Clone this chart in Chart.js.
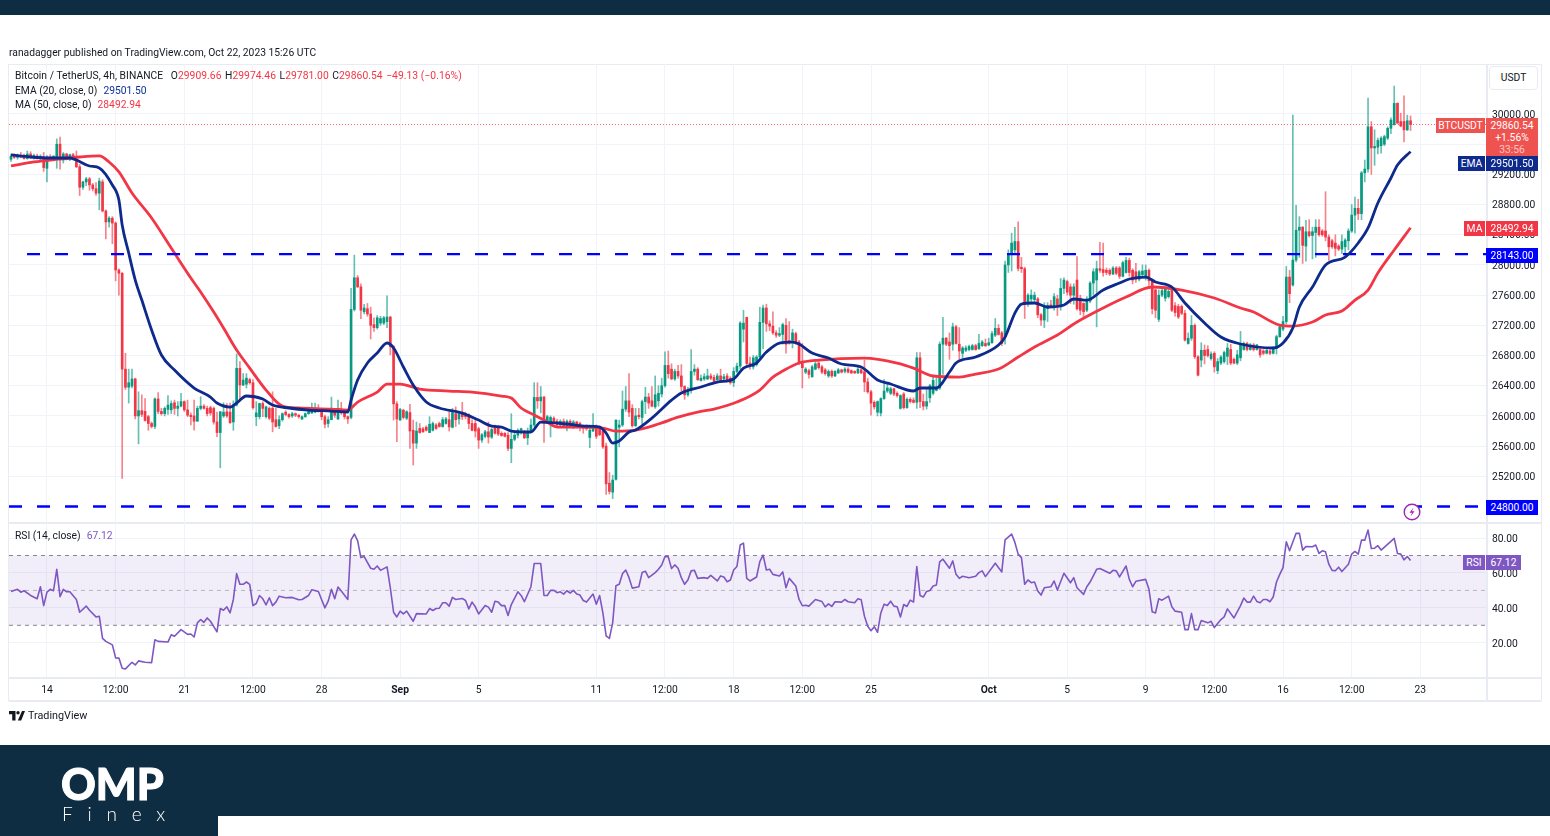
<!DOCTYPE html>
<html>
<head>
<meta charset="utf-8">
<title>BTCUSDT 4h</title>
<script src="https://cdn.jsdelivr.net/npm/chart.js@4"></script>
<style>
    html, body { margin: 0; padding: 0; background: #fff; width: 1550px; height: 836px; overflow: hidden; }
    body, .t { font-family: Roboto, sans-serif; font-size: 10.3px; color: #131722; }
    #wrap { position: relative; width: 1550px; height: 836px; }
    canvas { position: absolute; left: 0; top: 0; z-index: 2; }
    .abs { position: absolute; }
    .t { position: absolute; white-space: nowrap; line-height: 14px; z-index: 3; }
    .t span { margin-left: 6px; }
    .t span.k { margin-left: 3.5px; }
    .t span.r.v { margin-left: 0; }
    .r { color: #F23645; }
    .bar { position: absolute; background: #0F2D42; z-index: 1; }
    .line { position: absolute; background: #e9ebf2; z-index: 1; }
    .tag { position: absolute; z-index: 4; color: #fff; text-align: center; white-space: nowrap; line-height: 15px; height: 15px; }
</style>
</head>
<body>
<div id="wrap">
    <div class="bar" style="left:0;top:0;width:1550px;height:15px"></div>
    <div class="bar" style="left:0;top:745px;width:1550px;height:91px"></div>
    <div class="abs" style="left:218px;top:816px;width:1332px;height:20px;background:#fff;z-index:1"></div>

    <div class="t" style="left:9px;top:46px">ranadagger published on TradingView.com, Oct 22, 2023 15:26 UTC</div>

    <!-- marco de los paneles -->
    <div class="line" style="left:9px;top:64px;width:1532px;height:1px"></div>
    <div class="line" style="left:9px;top:700px;width:1532px;height:2px"></div>
    <div class="line" style="left:8px;top:64px;width:1px;height:637px"></div>
    <div class="line" style="left:1541px;top:64px;width:1px;height:637px"></div>
    <div class="line" style="left:1486px;top:64px;width:2px;height:637px"></div>
    <div class="line" style="left:9px;top:522px;width:1532px;height:2px"></div>
    <div class="line" style="left:9px;top:677px;width:1532px;height:2px"></div>

    <canvas id="grafico" width="1550" height="836"></canvas>

    <div class="t" style="left:15px;top:69px;letter-spacing:.05px">Bitcoin / TetherUS, 4h, BINANCE<span style="margin-left:7.5px">O</span><span class="r v">29909.66</span><span class="k">H</span><span class="r v">29974.46</span><span class="k">L</span><span class="r v">29781.00</span><span class="k">C</span><span class="r v">29860.54</span><span class="r k">&minus;49.13 (&minus;0.16%)</span></div>
    <div class="t" style="left:15px;top:84px">EMA (20, close, 0)<span style="color:#0C3299">29501.50</span></div>
    <div class="t" style="left:15px;top:98px">MA (50, close, 0)<span class="r">28492.94</span></div>
    <div class="t" style="left:15px;top:529px">RSI (14, close)<span style="color:#7E57C2">67.12</span></div>

    <!-- etiquetas del eje derecho -->
    <div class="t" style="left:1489px;top:66px;width:47px;height:22px;line-height:22px;text-align:center;border:1px solid #e9ebf2;border-radius:4px;background:#fff">USDT</div>
    <div class="tag" style="left:1436px;top:118px;width:49px;background:#EF5350">BTCUSDT</div>
    <div class="tag" style="left:1486px;top:118px;width:52px;height:38px;background:#EF5350;line-height:12px;padding-top:2px">29860.54<br>+1.56%<br><span style="opacity:.65">33:56</span></div>
    <div class="tag" style="left:1458px;top:156px;width:27px;background:#0D2A8C">EMA</div>
    <div class="tag" style="left:1486px;top:156px;width:52px;background:#0D2A8C">29501.50</div>
    <div class="tag" style="left:1464px;top:221px;width:21px;background:#F23645">MA</div>
    <div class="tag" style="left:1486px;top:221px;width:52px;background:#F23645">28492.94</div>
    <div class="tag" style="left:1486px;top:248px;width:52px;background:#0000FF">28143.00</div>
    <div class="tag" style="left:1486px;top:500px;width:52px;background:#0000FF">24800.00</div>
    <div class="tag" style="left:1463px;top:555px;width:22px;background:#7E57C2">RSI</div>
    <div class="tag" style="left:1486px;top:555px;width:35px;background:#7E57C2">67.12</div>

    <svg class="abs" style="left:1403px;top:503px;z-index:3" width="18" height="18" viewBox="0 0 18 18">
        <circle cx="9" cy="9" r="7.8" fill="#fff" stroke="#9C27B0" stroke-width="1.4"/>
        <path d="M10.5 4.5 L6.5 9.8 L9 9.8 L7.5 13.5 L11.5 8.2 L9 8.2 Z" fill="#9C27B0"/>
    </svg>

    <!-- marcas -->
    <svg class="abs" style="left:9px;top:711px;z-index:3" width="16" height="10" viewBox="0 0 16 10">
        <path d="M0 0 H6.5 V9.5 H3.2 V3.2 H0 Z M13 0 H16 L12.2 9.5 H8.8 Z" fill="#131722"/>
        <circle cx="9" cy="1.7" r="1.7" fill="#131722"/>
    </svg>
    <div class="t" style="left:28px;top:709px;font-size:10.8px">TradingView</div>
    <div class="t" style="left:61px;top:761px;font-family:Lato,sans-serif;font-weight:900;font-size:43px;line-height:46px;color:#fff;-webkit-text-stroke:1px #fff">OMP</div>
    <div class="t" style="left:62px;top:802px;font-family:Lato,sans-serif;font-weight:300;font-size:19px;line-height:24px;letter-spacing:14.8px;color:#fff">Finex</div>
</div>

<script>
// velas de 4h (indice 0 = primera vela a la izquierda)
const opens = [
    29400,29440,29425,29450,29430,29410,29470,29430,29445,29420,
    29430,29280,29430,29400,29400,29600,29390,29470,29400,29460,
    29400,29300,29030,29100,29140,29060,29010,28950,29100,28715,
    28570,28620,28555,27933,27890,26620,26380,26395,26490,26000,
    26070,26060,25990,25900,25860,26225,26060,26030,26086,26080,
    26175,26100,26130,26190,26080,26010,26000,25930,26100,26130,
    26100,26110,26100,25920,25780,26000,26055,26050,25920,26145,
    26630,26410,26420,26480,26440,25990,25990,26165,25990,26100,
    26100,25950,25870,25950,26050,26020,26000,26030,26010,25960,
    25990,26030,26040,26050,26090,26060,25990,25900,25950,26060,
    25960,26080,26040,25990,25980,27410,27830,27710,27380,27420,
    27350,27210,27170,27230,27230,27250,27310,26917,26160,25945,
    26075,25970,26045,25810,25640,25835,25830,25850,25780,25810,
    25880,25900,25860,25900,25950,25850,26030,25960,26030,26030,
    26020,25900,25900,25830,25680,25730,25790,25720,25840,25850,
    25770,25770,25745,25570,25690,25745,25810,25780,25710,25790,
    25880,26245,26200,26250,25920,25920,25970,25930,25880,25930,
    25870,25930,25860,25920,25900,25870,25860,25715,25800,25860,
    25850,25800,25600,25110,24990,25160,25850,25880,26090,26200,
    26100,25870,26000,25980,26190,26250,26200,26120,26200,26290,
    26400,26670,26620,26490,26590,26530,26390,26280,26340,26590,
    26620,26470,26490,26490,26530,26510,26480,26530,26490,26530,
    26500,26440,26590,26660,27150,27305,26700,26650,26680,26780,
    27240,27430,27220,27190,27100,27070,27080,27200,27000,27000,
    27090,26980,26695,26580,26600,26520,26620,26700,26650,26610,
    26530,26590,26530,26570,26610,26590,26620,26600,26590,26570,
    26610,26585,26450,26320,26180,26050,26040,26230,26330,26300,
    26360,26300,26100,26290,26110,26220,26210,26180,26770,26190,
    26130,26240,26300,26340,26370,26950,27030,26980,26950,27180,
    26950,26830,26870,26880,26880,26930,26890,26930,26960,26940,
    26970,27070,27160,27100,27050,28000,28150,28200,28310,27954,
    27950,27490,27550,27540,27550,27340,27270,27420,27470,27450,
    27550,27450,27690,27780,27710,27600,27800,27560,27490,27400,
    27520,27760,27800,27950,27940,27930,27930,27880,27960,27960,
    27850,27900,28060,27930,27910,27810,27870,27840,27930,27790,
    27670,27280,27600,27560,27580,27690,27460,27450,27450,27360,
    26960,27030,27200,26784,26740,26870,26880,26760,26830,26600,
    26700,26720,26790,26880,26750,26700,26770,26880,26960,26880,
    26940,26880,26880,26860,26830,26860,26830,26890,27050,27150,
    27250,27840,27734,28065,28460,28500,28250,28440,28390,28430,
    28500,28450,28450,28370,28320,28290,28250,28210,28240,28320,
    28450,28660,28750,28680,29220,29270,29830,29550,29560,29580,
    29600,29680,29810,29860,30140,29900,29900,29790,29909.66
];
const highs = [
    29470,29470,29470,29490,29470,29510,29500,29470,29470,29460,
    29490,29450,29460,29450,29670,29695,29490,29480,29470,29480,
    29510,29330,29110,29160,29160,29080,29090,29150,29130,28730,
    28640,28640,28570,27950,27900,26830,26620,26620,26500,26320,
    26280,26230,26010,25920,26240,26310,26100,26120,26270,26200,
    26210,26190,26300,26200,26210,26040,26210,26130,26255,26150,
    26130,26130,26120,26050,26060,26175,26165,26170,26200,26820,
    26720,26560,26560,26500,26480,26190,26170,26190,26130,26120,
    26320,26100,26000,26040,26070,26030,26050,26040,26020,26000,
    26040,26080,26170,26170,26150,26080,26010,25990,26250,26090,
    26210,26180,26060,26000,27690,28130,27860,27750,27480,27490,
    27440,27300,27330,27320,27320,27590,27320,26930,26190,26100,
    26090,26070,26155,25945,25920,25900,25850,25870,25990,25920,
    25900,25920,25980,25980,26055,26100,26120,26050,26180,26050,
    26030,25950,25970,25850,25770,25810,25920,25840,25880,25870,
    25790,25780,25780,26030,25800,25830,25840,25810,25840,25960,
    26440,26440,26390,26260,26010,26000,25990,25960,25950,25960,
    25950,25950,25940,25930,25920,25880,25880,25860,26030,25880,
    25870,25810,25640,25250,25215,25950,25945,26330,26390,26560,
    26150,26100,26100,26210,26380,26300,26390,26530,26400,26500,
    26850,26860,26690,26620,26670,26680,26400,26380,26880,26680,
    26640,26540,26560,26620,26560,26540,26560,26620,26550,26560,
    26520,26640,26700,27250,27400,27310,26780,26800,26800,27440,
    27470,27480,27260,27380,27130,27170,27230,27290,27250,27150,
    27110,27000,26960,26640,26620,26670,26720,26750,26670,26630,
    26610,26610,26600,26630,26620,26640,26640,26610,26600,26640,
    26630,26740,26500,26340,26200,26200,26240,26480,26440,26380,
    26370,26320,26280,26310,26240,26240,26240,26840,26840,26290,
    26350,26420,26540,26500,26980,27305,27040,27100,27230,27200,
    27170,26920,26930,26940,26950,26950,27080,27000,27020,27030,
    27120,27290,27210,27120,28050,28200,28420,28500,28570,28100,
    27970,27620,27670,27640,27570,27360,27500,27500,27530,27620,
    27600,27820,27830,27800,27750,27750,28110,27600,27500,27580,
    27780,27950,28050,28300,28290,27960,27950,27980,27980,27980,
    28050,28100,28090,27950,28020,27930,28000,28000,27950,27800,
    27680,27670,27710,27700,27680,27700,27500,27480,27470,27400,
    27100,27330,27220,26800,26970,26940,26930,26850,26850,26760,
    26800,26860,26960,26950,26770,26870,27120,26980,26980,26960,
    26960,26950,26900,26880,26890,26880,26920,27070,27200,27320,
    27980,27930,29986,28790,28640,28510,28590,28600,28500,28600,
    28600,28470,28970,28400,28340,28400,28270,28400,28350,28480,
    28800,28900,28870,29240,29390,30210,29900,29790,29680,29700,
    29720,29830,29950,30370,30150,30010,30240,29985,29974.46
];
const lows = [
    29370,29410,29400,29420,29400,29400,29410,29400,29400,29370,
    29240,29100,29380,29380,29280,29270,29350,29390,29380,29390,
    29290,28920,29000,29050,28990,28980,28920,28730,28700,28345,
    28500,28280,27790,27600,25172,26350,26170,26370,25960,25630,
    25990,25930,25810,25840,25830,26030,26010,26000,26020,26030,
    26020,26000,26120,26060,25990,25880,25810,25930,26080,26090,
    26000,26010,25890,25725,25313,25980,25980,25900,25810,26130,
    26210,26400,26370,26420,26090,25870,25960,25990,25970,25950,
    25790,25850,25830,25930,26000,25970,25980,25990,25970,25950,
    25980,26020,26030,26040,26050,25950,25840,25850,25950,25980,
    25950,26020,25960,25900,25960,27390,27700,27290,27350,27320,
    27020,27120,27150,27200,27210,27170,26810,25945,25660,25945,
    25960,25950,25570,25350,25570,25770,25780,25800,25780,25800,
    25820,25850,25850,25890,25800,25840,25860,25890,25950,25960,
    25830,25800,25720,25570,25650,25710,25640,25700,25760,25740,
    25730,25720,25540,25380,25670,25710,25760,25700,25620,25780,
    25860,26100,26040,25650,25900,25720,25900,25860,25860,25850,
    25800,25840,25830,25840,25800,25770,25810,25580,25790,25700,
    25740,25570,24960,24965,24905,25150,25590,25860,26060,25990,
    25850,25860,25960,25870,26030,26100,26120,26100,26130,26250,
    26380,26500,26480,26470,26500,26330,26220,26260,26300,26540,
    26470,26460,26470,26480,26480,26440,26460,26460,26470,26450,
    26420,26390,26570,26620,26980,26670,26620,26620,26660,26760,
    26890,27120,27130,27080,27040,27050,26950,26830,26950,26900,
    26950,26680,26370,26560,26500,26510,26610,26620,26560,26540,
    26510,26510,26520,26560,26570,26570,26570,26560,26560,26560,
    26560,26320,26300,26010,26090,26000,26000,26220,26310,26280,
    26270,26250,26090,26090,26100,26170,26170,26100,26110,26080,
    26090,26180,26280,26330,26350,26550,26930,26750,26870,26950,
    26740,26760,26850,26860,26870,26870,26880,26920,26920,26930,
    26960,27050,27070,26930,26950,27900,27920,28150,27920,27900,
    27290,27450,27500,27500,27300,27200,27170,27250,27430,27400,
    27330,27400,27620,27600,27490,27480,27400,27340,27300,27380,
    27500,27600,27180,27900,27850,27870,27860,27870,27870,27820,
    27840,27890,27850,27750,27770,27790,27860,27800,27730,27350,
    27300,27250,27580,27520,27560,27380,27320,27290,27340,26990,
    26950,27000,26760,26530,26650,26690,26780,26740,26580,26560,
    26680,26700,26680,26680,26690,26680,26730,26870,26860,26870,
    26860,26870,26780,26810,26820,26810,26820,26820,27040,27130,
    27220,27500,27720,28040,28100,28020,28050,28370,28080,28100,
    28380,28380,28320,28060,28220,28120,28190,28150,28100,28200,
    28430,28420,28600,28600,29100,29230,29200,29320,29470,29480,
    29580,29660,29740,29850,29870,29830,29630,29780,29781
];
const closes = [
    29440,29425,29450,29430,29410,29470,29430,29445,29420,29440,
    29290,29430,29400,29440,29600,29390,29470,29400,29460,29400,
    29300,29030,29100,29140,29060,29010,28950,29110,28715,28570,
    28620,28555,27933,27890,26620,26380,26440,26490,26000,26070,
    26020,25940,25900,25860,26225,26060,26030,26100,26144,26165,
    26100,26130,26190,26080,26010,25990,25930,26100,26130,26100,
    26030,26040,25920,25780,26055,26050,26000,25910,26145,26630,
    26410,26475,26500,26440,26110,26040,26165,26100,26120,25970,
    25920,25860,25950,26030,26020,25990,26030,26010,25990,25990,
    26030,26060,26080,26090,26060,25990,25890,25950,26090,26010,
    26100,26040,25990,25960,27411,27830,27710,27400,27430,27350,
    27200,27170,27300,27290,27300,27310,26917,26160,25960,26085,
    25980,26055,25800,25640,25800,25780,25790,25810,25890,25900,
    25835,25860,25950,25960,25855,26045,25950,26030,25990,25990,
    25900,25810,25800,25680,25750,25790,25720,25820,25770,25760,
    25740,25730,25570,25690,25745,25810,25820,25710,25790,25880,
    26245,26200,26250,25950,25990,25980,25930,25880,25930,25870,
    25930,25860,25920,25860,25860,25840,25830,25812,25860,25730,
    25750,25590,25100,25000,25150,25945,25880,26090,26200,26050,
    25870,26000,25990,26190,26250,26170,26130,26280,26300,26400,
    26670,26560,26490,26590,26530,26390,26280,26340,26590,26620,
    26480,26500,26520,26530,26500,26460,26530,26470,26520,26470,
    26440,26590,26660,27230,27230,26695,26660,26770,26780,27240,
    27430,27220,27190,27100,27070,27090,27210,26950,26970,27100,
    26970,26695,26640,26620,26550,26650,26690,26640,26580,26560,
    26590,26530,26590,26610,26580,26620,26580,26570,26570,26620,
    26570,26450,26320,26170,26120,26190,26230,26330,26370,26360,
    26290,26270,26270,26110,26220,26190,26180,26770,26190,26130,
    26190,26400,26470,26370,26950,27030,26950,26930,27180,26960,
    26860,26900,26900,26920,26930,26880,26960,26980,26930,26970,
    27090,27160,27080,26960,28000,28150,28290,28310,27954,27950,
    27490,27600,27600,27600,27340,27270,27450,27460,27450,27580,
    27450,27690,27800,27640,27600,27710,27420,27400,27380,27540,
    27760,27910,27950,27930,27900,27900,27880,27960,27890,27850,
    28030,28060,27900,27800,27810,27910,27920,27930,27790,27420,
    27400,27600,27660,27690,27650,27400,27370,27310,27360,27005,
    27030,27200,26784,26540,26870,26800,26800,26820,26650,26720,
    26780,26840,26900,26700,26700,26810,26960,26960,26880,26940,
    26880,26940,26810,26830,26870,26830,26900,27050,27180,27250,
    27840,27620,28065,28460,28500,28260,28440,28390,28440,28500,
    28400,28400,28370,28240,28240,28220,28210,28310,28330,28450,
    28660,28750,28680,29220,29270,29830,29550,29570,29650,29680,
    29700,29810,29920,30140,29880,29840,29790,29910,29860.54
];

// medias moviles (indice de vela y valor)
const emaIdx = [0,6,12,18,20,24,27,31,33,34,36,38,40,43,46,50,56,61,63,67,69,72,77,80,85,91,98,103,104,106,109,112,115,117,120,123,127,131,138,143,147,150,153,159,162,170,175,180,182,184,186,189,191,196,202,205,211,216,221,224,228,231,235,239,241,245,250,254,260,265,269,276,278,283,287,289,295,302,304,307,309,313,317,322,325,329,334,339,342,347,350,355,359,365,370,376,386,389,392,394,398,402,408,412,415,418,422,424,428];
const emaVal = [29457,29430,29417,29417,29390,29311,29285,29059,28860,28529,28158,27800,27535,27138,26807,26608,26370,26250,26171,26118,26171,26264,26224,26144,26105,26078,26065,26052,26210,26476,26701,26833,26966,26900,26648,26409,26184,26105,26038,25945,25866,25853,25800,25787,25919,25893,25866,25853,25773,25641,25668,25787,25813,25972,26210,26303,26383,26449,26489,26634,26701,26846,26966,26979,26953,26833,26767,26688,26648,26476,26423,26330,26370,26370,26582,26701,26780,26939,27045,27363,27482,27496,27443,27469,27549,27535,27668,27761,27814,27840,27774,27708,27496,27231,27045,26953,26900,26966,27165,27443,27708,28000,28105,28291,28490,28821,29152,29324,29501.5];
const maIdx = [0,7,15,21,27,30,33,37,43,49,55,58,62,65,69,73,78,83,88,98,103,106,112,115,119,125,134,141,150,153,156,160,163,167,174,181,185,191,198,204,210,215,222,229,233,236,241,247,261,271,276,282,290,295,302,308,313,320,326,334,341,349,358,368,376,380,388,392,398,402,407,411,415,418,423,428];
const maVal = [29311,29364,29404,29430,29444,29364,29232,28953,28622,28225,27827,27642,27376,27165,26873,26634,26343,26131,26105,26091,26078,26184,26316,26422,26422,26356,26330,26316,26264,26237,26105,26012,25945,25853,25853,25840,25800,25813,25893,25985,26052,26091,26184,26343,26515,26595,26701,26740,26767,26701,26634,26529,26515,26555,26621,26780,26913,27072,27244,27430,27575,27708,27668,27562,27430,27376,27204,27191,27244,27337,27390,27535,27668,27893,28198,28492.94];

// RSI (indice de vela y valor)
const rsiIdx = [0,2,3,4,6,8,9,10,11,12,13,14,15,16,17,18,20,21,23,24,26,27,28,29,31,32,33,34,35,37,38,39,41,43,44,45,48,49,50,52,54,55,56,57,58,59,60,61,63,64,65,66,67,68,69,70,71,72,73,74,75,76,77,78,79,80,81,82,84,86,88,89,91,92,94,96,97,98,99,100,101,103,104,105,106,107,108,110,111,112,113,115,116,117,118,119,120,121,123,124,127,128,129,130,131,132,133,134,135,136,138,139,140,141,142,143,145,146,147,148,149,150,151,152,153,155,
    156,157,159,160,162,163,164,165,166,167,168,169,170,171,172,173,174,175,176,178,179,180,181,182,183,184,185,186,187,188,189,190,192,193,194,195,197,198,199,200,201,202,203,204,205,206,207,208,209,210,212,213,214,216,217,218,219,220,221,222,223,224,225,226,228,229,230,231,232,233,235,236,237,238,240,241,242,243,244,246,248,249,250,251,252,254,255,256,258,259,260,261,262,263,264,265,266,267,268,269,270,271,272,273,274,275,276,277,278,279,280,281,282,283,284,285,287,288,289,290,291,293,295,296,297,298,301,303,304,306,307,308,309,310,311,312,313,
    314,315,316,318,319,320,322,324,325,326,328,329,330,332,333,336,337,338,339,341,342,343,344,347,348,349,350,351,352,354,355,356,358,359,360,361,362,363,364,366,367,368,370,371,372,374,376,377,378,379,380,381,382,383,384,385,386,387,388,389,390,391,393,394,395,396,398,399,400,401,402,403,404,405,406,407,409,410,411,412,413,414,415,416,417,418,419,423,424,425,426,427,428];
const rsiVal = [49.4,50.6,49.0,49.8,47.1,45.2,52.1,41.3,49.0,50.6,49.8,62.1,46.4,50.6,49.2,49.2,44.8,37.5,41.0,38.6,34.8,35.2,22.5,20.8,18.8,11.3,11.2,5.4,5.0,8.8,7.3,9.6,8.8,8.6,21.7,20.8,20.4,24.6,23.7,27.5,24.8,25.0,23.3,31.4,33.3,31.7,34.2,32.3,26.2,39.6,38.6,40.6,37.1,44.8,59.6,53.5,53.5,54.8,53.5,41.3,42.5,47.1,45.2,41.7,45.8,41.3,43.3,46.7,45.8,46.0,44.6,44.8,47.1,50.4,49.4,40.0,43.8,50.6,45.2,51.9,49.6,44.8,79.0,82.3,78.5,68.8,69.4,62.7,62.1,64.0,61.5,63.5,51.5,37.5,34.8,38.1,36.5,38.1,32.3,36.7,36.5,39.6,38.5,39.6,39.8,42.9,42.9,41.0,46.0,44.8,45.4,44.2,39.4,43.3,40.6,36.5,41.3,40.4,37.5,43.8,43.3,41.3,41.3,35.6,41.9,49.2,
    47.1,43.5,52.1,65.4,65.4,47.1,47.1,50.0,50.0,48.7,49.2,47.9,49.8,48.5,50.0,47.9,47.3,44.2,43.3,47.9,42.1,47.1,37.1,24.0,22.5,31.4,52.7,53.5,59.6,61.7,57.3,51.3,52.1,60.2,61.0,57.3,60.2,62.1,64.6,69.4,69.2,62.5,64.6,62.7,57.3,53.5,56.0,61.2,61.5,56.9,57.3,56.9,58.6,55.4,58.3,57.7,55.0,56.0,61.7,63.7,76.0,77.1,56.9,55.4,57.7,66.5,70.2,61.7,62.1,59.2,58.3,60.6,51.5,56.9,52.5,44.8,41.2,41.5,41.0,44.8,43.6,40.6,42.3,40.8,43.5,43.3,44.8,43.5,42.9,45.2,44.6,35.2,29.4,26.9,29.2,26.0,37.1,42.1,41.3,43.8,41.0,40.6,34.8,41.9,40.8,44.4,43.3,63.7,47.1,46.2,49.4,50.0,52.5,53.1,66.3,67.9,62.7,66.9,59.2,56.9,58.1,57.3,58.1,60.2,61.2,57.9,65.6,60.6,79.0,82.3,77.5,70.8,68.8,53.5,56.0,54.4,54.8,
    49.6,47.3,51.5,52.1,55.4,50.2,59.8,54.4,57.3,51.5,47.7,52.1,54.8,62.1,62.5,59.8,61.5,61.2,57.7,64.0,56.3,52.1,55.2,56.3,50.6,37.7,37.1,45.2,44.4,46.7,40.6,38.1,37.5,27.5,27.5,36.7,27.5,27.5,32.7,31.4,32.3,28.7,33.3,34.8,39.4,34.2,41.3,45.6,43.3,43.3,46.7,43.7,42.9,44.8,44.8,43.5,46.2,54.8,59.2,63.1,77.9,72.7,82.7,82.7,73.1,75.2,75.0,76.0,71.2,72.7,72.1,65.0,61.5,61.3,63.3,60.8,65.0,70.8,72.3,70.8,78.8,78.8,84.6,74.0,74.2,75.6,73.1,79.8,71.2,70.8,67.5,69.4,67.12];

// niveles y ejes
const soporte = 24800;
const resistencia = 28143;
const ultimoPrecio = 29860.54;
const soporteDesde = -0.61;
const resistenciaDesde = 4.9;
const xMin = -0.61;
const xMax = 451.07;
const priceTicks = [25200,25600,26000,26400,26800,27200,27600,28000,28400,28800,29200,29600,30000];
const rsiTicks = [20,40,60,80];
const rsiNiveles = [70,50,30];
const xTickIdx = [11,32,53,74,95,119,143,179,200,221,242,263,299,323,347,368,389,410,431];
const xTickLabels = ["14","12:00","21","12:00","28","Sep","5","11","12:00","18","12:00","25","Oct","5","9","12:00","16","12:00","23"];

const VERDE = "#089981";
const ROJO = "#F23645";
const VIOLETA = "#7E57C2";

const indices = closes.map((c, i) => i);
const colorVela = (alpha) => closes.map((c, i) => {
    const base = c >= opens[i] ? "8,153,129" : "242,54,69";
    return `rgba(${base},${alpha})`;
});
const puntos = (xs, ys) => xs.map((x, i) => ({ x: x, y: ys[i] }));
const horizontal = (desde, valor) => [{ x: desde, y: valor }, { x: xMax, y: valor }];

function lineaDataset(data, color, ancho, eje, extra) {
    return Object.assign({
        type: "line",
        data: data,
        yAxisID: eje,
        borderColor: color,
        borderWidth: ancho,
        pointRadius: 0,
        tension: 0,
        fill: false,
        borderJoinStyle: "round"
    }, extra);
}

const datasets = [
    // sombras y cuerpos de las velas
    {
        type: "bar",
        data: indices.map(i => ({ x: i, y: [lows[i], highs[i]] })),
        yAxisID: "yPrice",
        backgroundColor: colorVela(0.62),
        barThickness: 1,
        grouped: false,
        order: 4
    },
    {
        type: "bar",
        data: indices.map(i => ({ x: i, y: [opens[i], closes[i]] })),
        yAxisID: "yPrice",
        backgroundColor: colorVela(1),
        barThickness: 2,
        minBarLength: 1.5,
        grouped: false,
        order: 3
    },
    lineaDataset(horizontal(xMin, ultimoPrecio), "rgba(242,54,69,0.75)", 1, "yPrice", { borderDash: [1, 2], order: 2 }),
    lineaDataset(puntos(maIdx, maVal), ROJO, 2.8, "yPrice", { order: 1, cubicInterpolationMode: "monotone" }),
    lineaDataset(puntos(emaIdx, emaVal), "#0D2A8C", 2.8, "yPrice", { order: 0, cubicInterpolationMode: "monotone" }),
    lineaDataset(horizontal(resistenciaDesde, resistencia), "#0000FF", 2.4, "yPrice", { borderDash: [13, 15], order: 0 }),
    lineaDataset(horizontal(soporteDesde, soporte), "#0000FF", 2.4, "yPrice", { borderDash: [13, 15], order: 0 }),
    // banda del RSI
    lineaDataset(horizontal(xMin, rsiNiveles[0]), "rgba(120,123,134,0.9)", 1, "yRsi", {
        borderDash: [4, 4],
        fill: { target: { value: rsiNiveles[2] } },
        backgroundColor: "rgba(126,87,194,0.1)",
        order: 6
    }),
    lineaDataset(horizontal(xMin, rsiNiveles[1]), "rgba(120,123,134,0.5)", 1, "yRsi", { borderDash: [4, 4], order: 5 }),
    lineaDataset(horizontal(xMin, rsiNiveles[2]), "rgba(120,123,134,0.9)", 1, "yRsi", { borderDash: [4, 4], order: 5 }),
    lineaDataset(puntos(rsiIdx, rsiVal), VIOLETA, 1.6, "yRsi", { order: 0 })
];

const fuenteEje = { family: "Roboto, sans-serif", size: 10.3 };
const ejeY = (ticks, min, max, peso, decimales, desplazamiento) => ({
    type: "linear",
    position: "right",
    stack: "paneles",
    stackWeight: peso,
    min: min,
    max: max,
    afterBuildTicks: (eje) => { eje.ticks = ticks.map(v => ({ value: v })); },
    afterFit: (eje) => { eje.width = 55; },
    grid: { color: "#f0f3fa", drawTicks: false },
    border: { display: false },
    ticks: { padding: 6, labelOffset: desplazamiento, color: "#131722", font: fuenteEje, callback: v => v.toFixed(decimales) }
});

new Chart(document.getElementById("grafico"), {
    type: "bar",
    data: { datasets: datasets },
    options: {
        responsive: false,
        animation: false,
        events: [],
        devicePixelRatio: 1,
        layout: { padding: { top: 64, bottom: 136, left: 9, right: 9 } },
        plugins: { legend: { display: false }, tooltip: { enabled: false } },
        scales: {
            x: {
                type: "linear",
                offset: false,
                min: xMin,
                max: xMax,
                afterBuildTicks: (eje) => { eje.ticks = xTickIdx.map(v => ({ value: v })); },
                afterFit: (eje) => { eje.height = 23; },
                grid: { color: "#f0f3fa", drawTicks: false, offset: false },
                border: { display: false },
                ticks: {
                    padding: 7,
                    color: "#131722",
                    autoSkip: false,
                    maxRotation: 0,
                    font: (ctx) => ({
                        family: fuenteEje.family,
                        size: fuenteEje.size,
                        weight: /[a-z]/.test(xTickLabels[ctx.index] || "") ? "bold" : "normal"
                    }),
                    callback: (v, i) => xTickLabels[i]
                }
            },
            yPrice: ejeY(priceTicks, 24595, 30662, 458, 2, 1),
            yRsi: ejeY(rsiTicks, 0.37, 89.2, 155, 2, 1.5)
        }
    }
});
</script>
</body>
</html>
